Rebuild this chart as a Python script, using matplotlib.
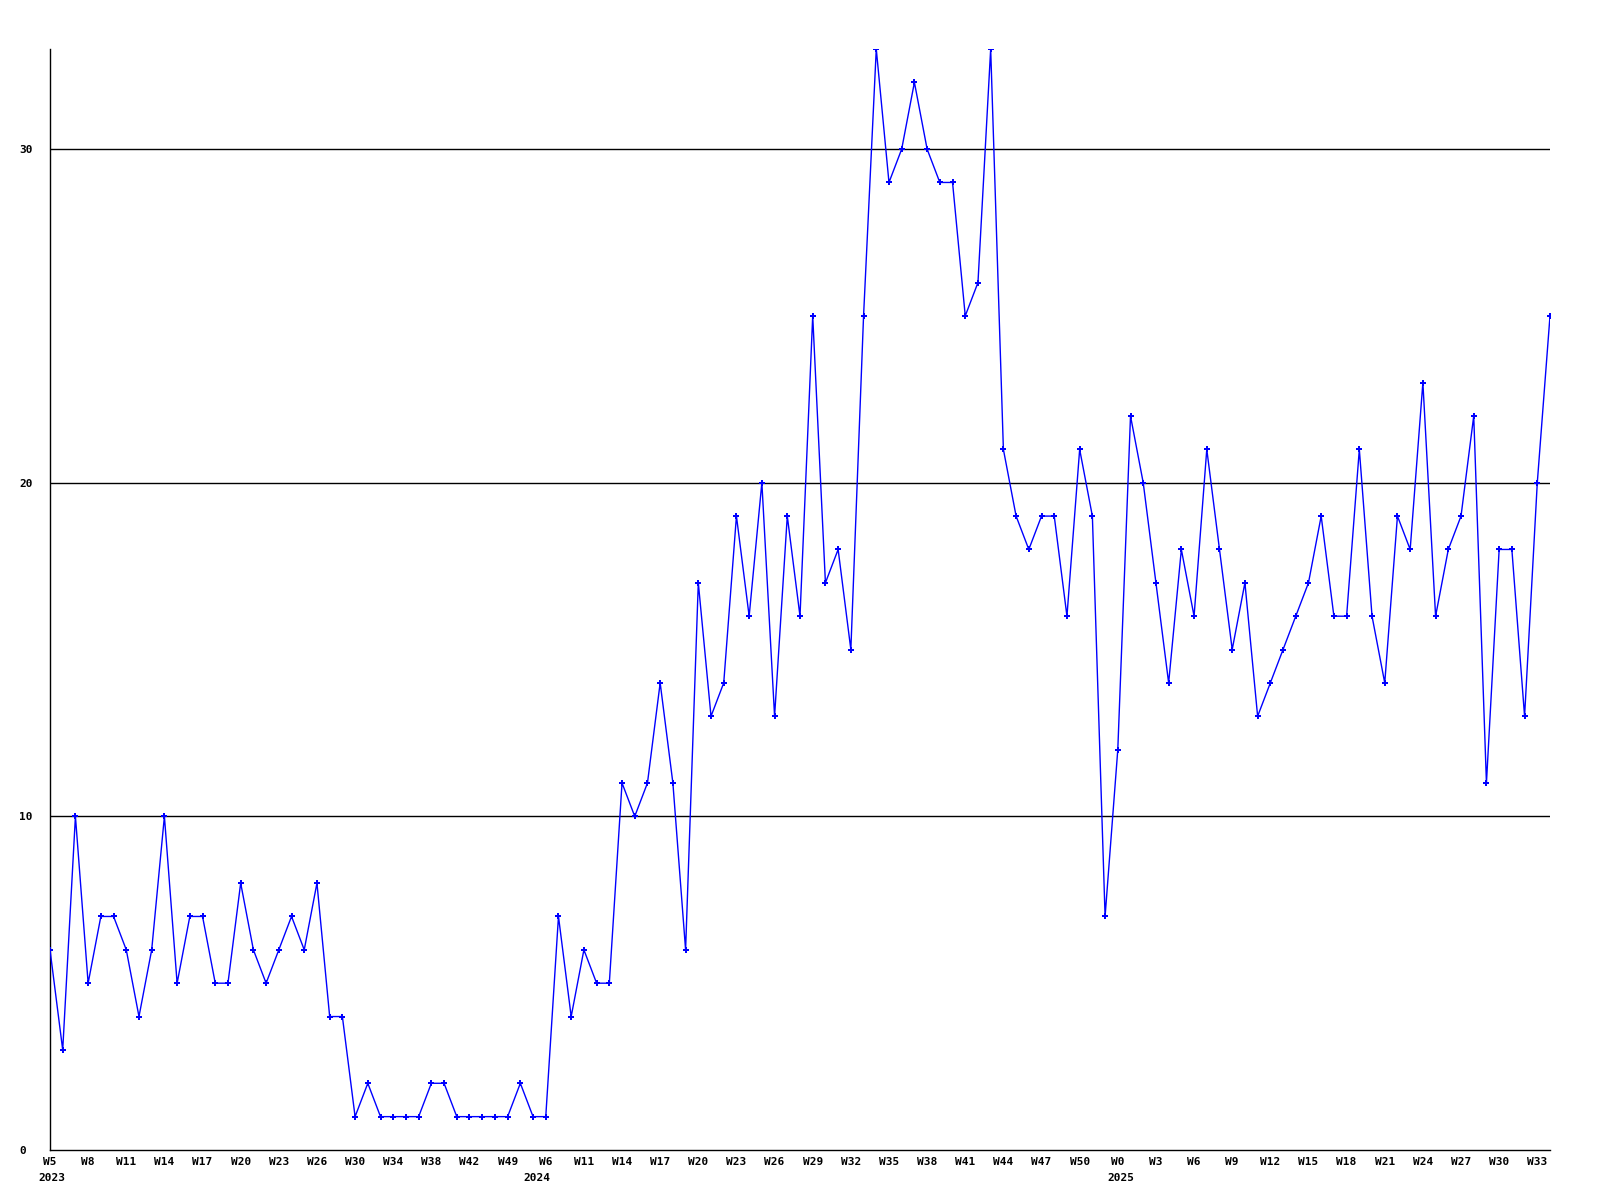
import numpy as np
import matplotlib
matplotlib.use("Agg")
import matplotlib.pyplot as plt

# weekly counts, one per point, W5 2023 .. last week 2025
values = [
    6, 3, 10, 5, 7, 7, 6, 4, 6, 10,
    5, 7, 7, 5, 5, 8, 6, 5, 6, 7,
    6, 8, 4, 4, 1, 2, 1, 1, 1, 1,
    2, 2, 1, 1, 1, 1, 1, 2, 1, 1,
    7, 4, 6, 5, 5, 11, 10, 11, 14, 11,
    6, 17, 13, 14, 19, 16, 20, 13, 19, 16,
    25, 17, 18, 15, 25, 33, 29, 30, 32, 30,
    29, 29, 25, 26, 33, 21, 19, 18, 19, 19,
    16, 21, 19, 7, 12, 22, 20, 17, 14, 18,
    16, 21, 18, 15, 17, 13, 14, 15, 16, 17,
    19, 16, 16, 21, 16, 14, 19, 18, 23, 16,
    18, 19, 22, 11, 18, 18, 13, 20, 25,
]

# a label on every third point
week_labels = [
    "W5", "W8", "W11", "W14", "W17", "W20", "W23", "W26", "W30", "W34",
    "W38", "W42", "W49", "W6", "W11", "W14", "W17", "W20", "W23", "W26",
    "W29", "W32", "W35", "W38", "W41", "W44", "W47", "W50", "W0", "W3",
    "W6", "W9", "W12", "W15", "W18", "W21", "W24", "W27", "W30", "W33",
]
years = ["2023", "2024", "2025"]
year_idx = [0, 39, 84]

y_ticks = [0, 10, 20, 30]

x = np.arange(len(values))

fig = plt.figure(figsize=(16, 12), dpi=100)
ax = fig.add_axes([50 / 1600, 50 / 1200, 1500 / 1600, 1101 / 1200])

for yv in y_ticks[1:]:
    ax.axhline(yv, color="black", lw=1.0, zorder=1)

ax.plot(x, values, color="#0000ff", lw=1.0, marker="P", markersize=3.8,
        markeredgewidth=0, zorder=3)

ax.set_xlim(0, len(values) - 1)
ax.set_ylim(0, 33)

ax.spines["top"].set_visible(False)
ax.spines["right"].set_visible(False)
for s in ("left", "bottom"):
    ax.spines[s].set_color("black")
    ax.spines[s].set_linewidth(1.0)

font = dict(family="DejaVu Sans Mono", weight="bold", size=8)

ax.set_xticks(x[::3])
ax.set_xticklabels(week_labels, **font)
ax.tick_params(axis="x", length=0, pad=5)

ax.set_yticks(y_ticks)
ax.set_yticklabels([str(v) for v in y_ticks], **font)
ax.tick_params(axis="y", length=0, pad=22)
for lbl in ax.get_yticklabels():
    lbl.set_horizontalalignment("left")

# year under the first week of each year
trans = ax.get_xaxis_transform()
aligns = ["left", "right", "left"]
offsets = [-0.9, 0.4, -0.8]
for yr, i, ha, off in zip(years, year_idx, aligns, offsets):
    ax.text(i + off, -0.0213, yr, transform=trans, ha=ha, va="top", **font)

fig.savefig("out.png", dpi=100)
